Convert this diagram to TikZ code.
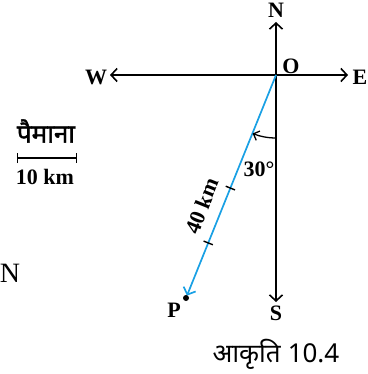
\documentclass[tikz,border=0pt]{standalone}
\usepackage{fontspec}
\setmainfont{Liberation Serif}
\newfontfamily\devfont[Script=Devanagari]{Noto Sans}
\newfontfamily\devfontb[Script=Devanagari,FakeBold=1.5]{Noto Sans}
\usetikzlibrary{arrows.meta,calc}
\definecolor{skyblue}{RGB}{25,160,228}
\tikzset{
  barb/.style={-{Straight Barb[length=6pt,width=13pt,line width=1.6pt]}},
  axis/.style={line width=1.6pt,black,barb},
  lbl/.style={font=\fontsize{22}{22}\selectfont\bfseries,inner sep=0pt},
  tick/.style={line width=1.4pt,black},
}
\begin{document}
\begin{tikzpicture}[x=1pt,y=-1pt]
\useasboundingbox (0,0) rectangle (367,374);
\coordinate (O) at (276,75);
\coordinate (Ntip) at (276,22);
\coordinate (Stip) at (276,302);
\coordinate (Wtip) at (110,75);
\coordinate (Etip) at (348,75);
\coordinate (P) at (186,298);
\draw[axis] (O) -- (Ntip);
\draw[axis] (O) -- (Stip);
\draw[axis] (O) -- (Wtip);
\draw[axis] (O) -- (Etip);
\node[lbl] (nN) at (276,10) {N};
\node[lbl] (nS) at (276,313) {S};
\node[lbl] (nW) at (96,77) {W};
\node[lbl] (nE) at (360,77) {E};
\node[lbl] (nO) at (291,66) {O};
% blue path
\draw[skyblue,line width=1.7pt,-{Straight Barb[length=6pt,width=13pt,line width=1.7pt]},shorten >=2.5pt] (O) -- (P);
\fill (P) circle (3pt);
\node[lbl] (nP) at (174,310) {P};
% ticks
\coordinate (T1) at ($(O)!0.507!(P)$);
\coordinate (T2) at ($(O)!0.753!(P)$);
\draw[tick] ($(T1)!5pt!90:(P)$) -- ($(T1)!5pt!-90:(P)$);
\draw[tick] ($(T2)!5pt!90:(P)$) -- ($(T2)!5pt!-90:(P)$);
\node[lbl,rotate=68.2] (d40) at (202,206) {40 km};
% angle arc
\coordinate (A1) at (276,138);
\draw[line width=1.3pt,-{Straight Barb[length=5pt,width=10pt,line width=1.3pt]}] (A1) arc[start angle=90,end angle=111.8,radius=63];
\node[lbl] (a30) at (259,169) {30°};
% scale
\node[font=\devfontb\fontsize{26}{26}\selectfont,inner sep=0pt] (sc) at (46,131) {पैमाना};
\coordinate (B1) at (17,158);
\coordinate (B2) at (77,158);
\draw[line width=1.4pt,{Bar[width=10pt,line width=1.4pt]}-{Bar[width=10pt,line width=1.4pt]}] (B1) -- (B2);
\node[lbl] (s10) at (45,177) {10 km};
\node[font=\fontsize{28}{28}\selectfont,inner sep=0pt] (nl) at (10,273) {N};
\node[font=\devfont\fontsize{26}{26}\selectfont,inner sep=0pt] (cap) at (276,354) {आकृति\hspace{7pt}10.4};
\end{tikzpicture}
\end{document}
